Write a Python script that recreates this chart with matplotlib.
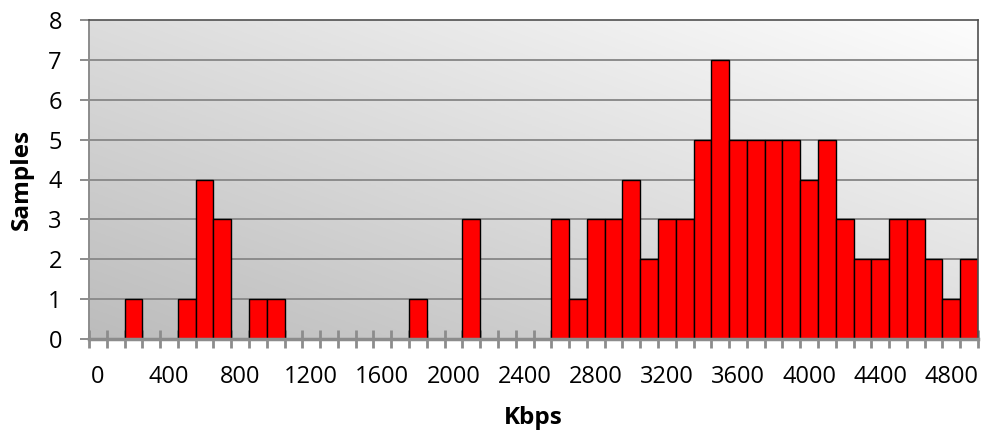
import matplotlib as mpl
mpl.use('Agg')

import matplotlib.pyplot as plt
import numpy as np

# Throughput histogram, 100 Kbps bins
bins_kbps = list(range(0, 5000, 100))
samples = [0, 0, 1, 0, 0, 1, 4, 3, 0, 1,
           1, 0, 0, 0, 0, 0, 0, 0, 1, 0,
           0, 3, 0, 0, 0, 0, 3, 1, 3, 3,
           4, 2, 3, 3, 5, 7, 5, 5, 5, 5,
           4, 5, 3, 2, 2, 3, 3, 2, 1, 2]
tick_labels = [str(b) for b in bins_kbps[::4]]

plt.rcParams['font.family'] = ['Open Sans', 'DejaVu Sans']

W, H = 984, 438
fig = plt.figure(figsize=(W / 100, H / 100), dpi=100)
ax = fig.add_axes([89 / W, 1 - 339 / H, 889 / W, 319 / H])

n = len(bins_kbps)
x = np.arange(n)

# diagonal gray gradient behind the bars
gx, gy = np.meshgrid(np.linspace(0, 1, 200), np.linspace(0, 1, 200))
grad = (gx + gy) / 2
ax.imshow(grad, cmap=mpl.colors.LinearSegmentedColormap.from_list(
              'bg', ['#bcbcbc', '#fdfdfd']),
          extent=[-0.5, n - 0.5, 0, 8], origin='lower', aspect='auto',
          zorder=0, interpolation='bilinear')

for yv in range(1, 8):
    ax.axhline(yv, color='#8c8c8c', lw=1.4, zorder=1)

ax.bar(x, samples, width=1.0, color='#ff0000', edgecolor='black',
       linewidth=1.0, zorder=2)

ax.set_xlim(-0.5, n - 0.5)
ax.set_ylim(0, 8)

ax.set_yticks(range(0, 9))
ax.set_xticks(x[::4])
ax.set_xticklabels(tick_labels)
ax.set_xticks(np.arange(n + 1) - 0.5, minor=True)

ax.tick_params(axis='y', direction='out', length=6.5, width=1.4,
               color='#8c8c8c', labelsize=17, pad=13)
ax.tick_params(axis='x', which='major', length=0, labelsize=17, pad=19)
ax.tick_params(axis='x', which='minor', direction='inout', length=13,
               width=2, color='#8c8c8c')

for side in ('top', 'right'):
    ax.spines[side].set_color('#505050')
    ax.spines[side].set_linewidth(1.2)
ax.spines['left'].set_color('#8c8c8c')
ax.spines['left'].set_linewidth(1.4)
ax.spines['bottom'].set_color('#8c8c8c')
ax.spines['bottom'].set_linewidth(2.5)
ax.spines['bottom'].set_zorder(3)

ax.set_ylabel('Samples', fontsize=17.5, fontweight='bold')
ax.set_xlabel('Kbps', fontsize=17.5, fontweight='bold')
ax.yaxis.set_label_coords((34 - 89) / 889, 0.5)
ax.xaxis.set_label_coords(0.5, -(406 - 339) / 319)

fig.savefig('out.png', dpi=100)
